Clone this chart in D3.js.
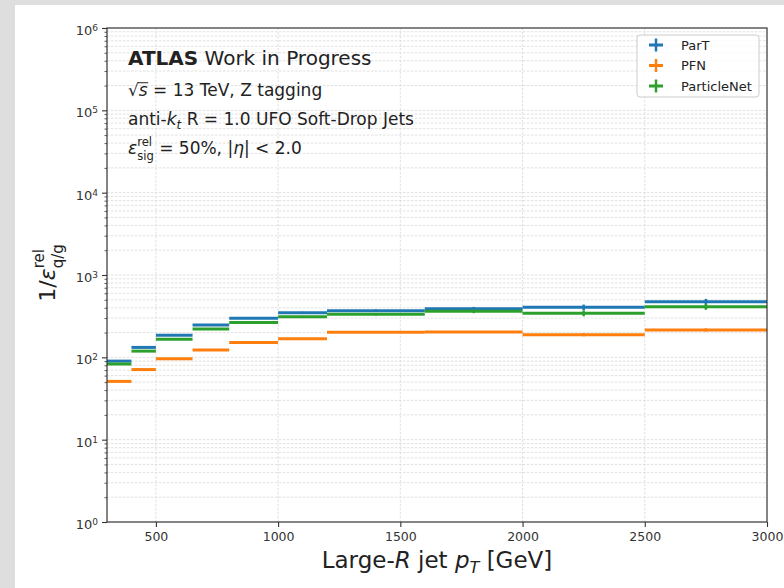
<!DOCTYPE html>
<html>
<head>
<meta charset="utf-8">
<script src="https://cdn.jsdelivr.net/npm/d3@7"></script>
<style>
  body { margin: 0; background: #fff; }
  svg { display: block; }
  text { font-family: "DejaVu Sans", sans-serif; }
</style>
</head>
<body>
<svg id="chart" width="784" height="588"></svg>
<script>
// pT bin edges [GeV]
const binEdges = [300, 400, 500, 650, 800, 1000, 1200, 1600, 2000, 2500, 3000];

// background rejection 1/eps (q/g) per bin, with statistical uncertainties
const partValues        = [90, 132, 185, 247, 298, 349, 369, 390, 405, 474];
const partErrors        = [1, 2, 3, 4, 6, 8, 12, 20, 32, 38];
const pfnValues         = [51, 71, 96, 123, 151, 168, 201, 203, 188, 215];
const pfnErrors         = [0.5, 0.8, 1, 1.5, 2, 3, 4, 6, 8, 10];
const particleNetValues = [83, 119, 166, 221, 264, 312, 333, 362, 343, 412];
const particleNetErrors = [1, 2, 3, 4, 5, 7, 11, 18, 28, 34];

const seriesNames  = ["ParT", "PFN", "ParticleNet"];
const seriesColors = ["#1f77b4", "#ff7f0e", "#2ca02c"];

const xTickValues    = [500, 1000, 1500, 2000, 2500, 3000];
const yTickExponents = [0, 1, 2, 3, 4, 5, 6];

const W = 784, H = 588;
const L = 107, R = 767, T = 28, B = 522;

const svg = d3.select("#chart");
svg.append("rect").attr("width", W).attr("height", H).attr("fill", "#dedede");
svg.append("rect").attr("x", 15).attr("y", 5).attr("width", W - 15).attr("height", H - 5).attr("fill", "#ffffff");

const x = d3.scaleLinear().domain([300, 3000]).range([L, R]);
const y = d3.scaleLog().domain([1, 1e6]).range([B, T]);

// minor log positions 2..9 x 10^n
const minorVals = [];
for (let e = 0; e < 6; e++) for (let k = 2; k < 10; k++) minorVals.push(k * Math.pow(10, e));
const majorVals = yTickExponents.map(e => Math.pow(10, e));

// grid
const grid = svg.append("g");
grid.selectAll("line.hg").data(minorVals.concat(majorVals.slice(1, -1))).join("line")
  .attr("x1", L).attr("x2", R)
  .attr("y1", d => y(d)).attr("y2", d => y(d))
  .attr("stroke", "#d8d8d8").attr("stroke-width", 0.8).attr("stroke-dasharray", "2.5,1.5");
grid.selectAll("line.vg").data(xTickValues.slice(0, -1)).join("line")
  .attr("x1", d => x(d)).attr("x2", d => x(d))
  .attr("y1", T).attr("y2", B)
  .attr("stroke", "#d8d8d8").attr("stroke-width", 0.8).attr("stroke-dasharray", "2.5,1.5");

// axes
const xAxis = svg.append("g").attr("transform", `translate(0,${B})`)
  .call(d3.axisBottom(x).tickValues(xTickValues).tickSize(5).tickPadding(5).tickFormat(d3.format("d")));
xAxis.select(".domain").remove();
xAxis.selectAll("line").attr("stroke", "#333").attr("stroke-width", 1.1);
xAxis.selectAll("text").attr("fill", "#333").attr("font-size", 12.5).attr("font-family", "DejaVu Sans");

const yAxis = svg.append("g").attr("transform", `translate(${L},0)`)
  .call(d3.axisLeft(y).tickValues(majorVals).tickSize(5).tickPadding(4).tickFormat(() => ""));
yAxis.select(".domain").remove();
yAxis.selectAll("line").attr("stroke", "#333").attr("stroke-width", 1.1);
yAxis.selectAll("text").each(function(d) {
  const t = d3.select(this).attr("fill", "#333").attr("font-size", 13)
    .attr("font-family", "DejaVu Sans").attr("dy", "0.5em");
  t.text("10");
  t.append("tspan").attr("dy", "-0.45em").attr("font-size", 9).text(Math.round(Math.log10(d)));
});

const yMinor = svg.append("g").attr("transform", `translate(${L},0)`)
  .call(d3.axisLeft(y).tickValues(minorVals).tickSize(2.5).tickFormat(() => ""));
yMinor.select(".domain").remove();
yMinor.selectAll("line").attr("stroke", "#333").attr("stroke-width", 0.8);

// data
svg.append("clipPath").attr("id", "plotClip").append("rect")
  .attr("x", L).attr("y", T).attr("width", R - L).attr("height", B - T);

const series = [
  { name: seriesNames[0], values: partValues, errors: partErrors, color: seriesColors[0] },
  { name: seriesNames[1], values: pfnValues, errors: pfnErrors, color: seriesColors[1] },
  { name: seriesNames[2], values: particleNetValues, errors: particleNetErrors, color: seriesColors[2] }
];

const dataG = svg.append("g").attr("clip-path", "url(#plotClip)");
series.forEach(s => {
  const g = dataG.append("g");
  g.selectAll("line.bin").data(s.values).join("line")
    .attr("x1", (d, i) => x(binEdges[i])).attr("x2", (d, i) => x(binEdges[i + 1]))
    .attr("y1", d => y(d)).attr("y2", d => y(d))
    .attr("stroke", s.color).attr("stroke-width", 3);
  g.selectAll("line.err").data(s.values).join("line")
    .attr("x1", (d, i) => x((binEdges[i] + binEdges[i + 1]) / 2))
    .attr("x2", (d, i) => x((binEdges[i] + binEdges[i + 1]) / 2))
    .attr("y1", (d, i) => y(d - s.errors[i])).attr("y2", (d, i) => y(d + s.errors[i]))
    .attr("stroke", s.color).attr("stroke-width", 2.5);
});

// frame
svg.append("rect").attr("x", L).attr("y", T).attr("width", R - L).attr("height", B - T)
  .attr("fill", "none").attr("stroke", "#333").attr("stroke-width", 1.2);

// rich text: sequential runs; a run with `sup` and `sub` draws a stacked
// superscript/subscript pair inside one text element
function rich(parent, x0, y0, parts, size, anchor) {
  const g = parent.append("g");
  let cx = 0;
  parts.forEach(p => {
    const start = cx;
    const t = g.append("text")
      .attr("x", start).attr("y", 0)
      .attr("fill", "#222")
      .attr("xml:space", "preserve");
    let w;
    if (p.sup !== undefined) {
      const fs = size * 0.68;
      const a = t.append("tspan").attr("x", start).attr("y", -0.48 * size)
        .attr("font-size", fs).text(p.sup);
      const b = t.append("tspan").attr("x", start).attr("y", 0.36 * size)
        .attr("font-size", fs).text(p.sub);
      w = Math.max(a.node().getComputedTextLength(), b.node().getComputedTextLength());
    } else {
      t.attr("y", (p.shift || 0) * size)
        .attr("font-size", size * (p.scale || 1))
        .attr("font-style", p.it ? "italic" : "normal")
        .attr("font-weight", p.b ? "bold" : "normal")
        .text(p.t);
      w = t.node().getComputedTextLength();
    }
    if (p.over) {
      g.append("line").attr("x1", start - 1).attr("x2", start + w + 0.5)
        .attr("y1", -0.78 * size).attr("y2", -0.78 * size)
        .attr("stroke", "#222").attr("stroke-width", 1);
    }
    cx = start + w;
  });
  const dx = anchor === "middle" ? -cx / 2 : 0;
  g.attr("transform", `translate(${x0 + dx},${y0})`);
  return g;
}

// annotation block
const ann = svg.append("g");
rich(ann, 128, 65, [{ t: "ATLAS", b: true }, { t: " Work in Progress" }], 20, "start");
rich(ann, 128, 96, [
  { t: "√" }, { t: "s", it: true, over: true }, { t: " = 13 TeV, Z tagging" }
], 17, "start");
rich(ann, 128, 125, [
  { t: "anti-" }, { t: "k", it: true }, { t: "t", it: true, scale: 0.7, shift: 0.22 },
  { t: " R = 1.0 UFO Soft-Drop Jets" }
], 17, "start");
rich(ann, 128, 154, [
  { t: "ε", it: true },
  { sup: "rel", sub: "sig" },
  { t: " = 50%, |" }, { t: "η", it: true }, { t: "| < 2.0" }
], 17, "start");

// axis titles
rich(svg, (L + R) / 2, 568, [
  { t: "Large-" }, { t: "R", it: true }, { t: " jet " }, { t: "p", it: true },
  { t: "T", it: true, scale: 0.7, shift: 0.22 }, { t: " [GeV]" }
], 23, "middle");

const yTitle = svg.append("g").attr("transform", "translate(55,273) rotate(-90)");
rich(yTitle, 0, 0, [
  { t: "1/" }, { t: "ε", it: true },
  { sup: "rel", sub: "q/g" }
], 22, "middle");

// legend
const leg = svg.append("g");
leg.append("rect").attr("x", 637).attr("y", 35).attr("width", 122).attr("height", 62).attr("rx", 3)
  .attr("fill", "#fff").attr("fill-opacity", 0.8).attr("stroke", "#cccccc").attr("stroke-width", 1);
series.forEach((s, i) => {
  const cy = 45 + i * 20.5;
  leg.append("line").attr("x1", 649).attr("x2", 663).attr("y1", cy).attr("y2", cy)
    .attr("stroke", s.color).attr("stroke-width", 3);
  leg.append("line").attr("x1", 656).attr("x2", 656).attr("y1", cy - 6.5).attr("y2", cy + 6.5)
    .attr("stroke", s.color).attr("stroke-width", 2.5);
  leg.append("text").attr("x", 681).attr("y", cy + 4.5).attr("font-size", 13)
    .attr("fill", "#222").text(s.name);
});
</script>
</body>
</html>
